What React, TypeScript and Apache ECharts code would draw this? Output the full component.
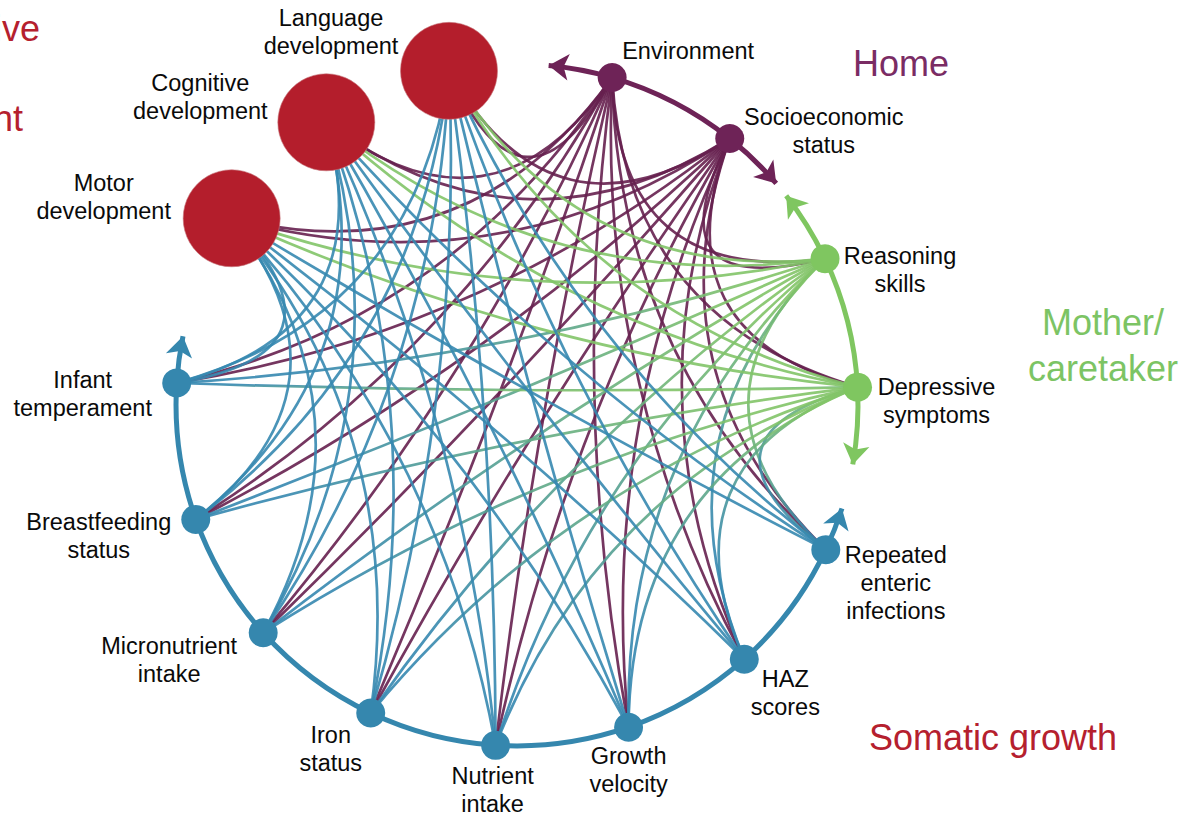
import React, { useEffect, useRef } from "react";
import * as echarts from "echarts";

// ---- data ----
const nodeNames = [
  "Environment",
  "Socioeconomic\nstatus",
  "Reasoning\nskills",
  "Depressive\nsymptoms",
  "Repeated\nenteric\ninfections",
  "HAZ\nscores",
  "Growth\nvelocity",
  "Nutrient\nintake",
  "Iron\nstatus",
  "Micronutrient\nintake",
  "Breastfeeding\nstatus",
  "Infant\ntemperament",
  "Motor\ndevelopment",
  "Cognitive\ndevelopment",
  "Language\ndevelopment",
];
// angular position of each node on the circle (degrees, counter-clockwise from east)
const nodeAngles = [73.8, 51.4, 25.4, 3.0, -25.1, -48.2, -70.9, -93.6, -115.4, -138.1, -160.4, 176.3, 146.8, 124.0, 101.5];
const nodeGroups = [
  "home", "home",
  "mother", "mother",
  "somatic", "somatic", "somatic", "somatic", "somatic", "somatic", "somatic", "somatic",
  "dev", "dev", "dev",
];
// ring arcs per group: arrow-tip angle at start, node chain, arrow-tip angle at end
const ringGroups = ["home", "mother", "somatic"];
const ringChains = [
  [0, 1],
  [2, 3],
  [4, 5, 6, 7, 8, 9, 10, 11],
];
const ringStartTips = [87.4, 41.0, -15.8];
const ringEndTips = [37.8, -13.3, 166.4];

const groupTitles = ["Home", "Mother/\ncaretaker", "Somatic growth", "Neurocognitive\n\ndevelopment"];

// ---- styles ----
const NODE_COLORS: Record<string, string> = {
  home: "#6e2357",
  mother: "#7fc660",
  somatic: "#3587ae",
  dev: "#b41e2c",
};
const EDGE_COLORS: Record<string, string> = {
  home: "#66204f",
  mother: "#82c468",
  somatic: "#3688b0",
};
const labelOffsets = [
  [76, -27], [94, -8], [75, 11], [79, 14], [70, 33], [41, 34], [0, 43], [-3, 45],
  [-40, 36], [-94, 27], [-97, 17], [-94, 11], [-128, -21], [-126, -25], [-118, -39],
];
const FONT = '"Liberation Sans", Arial, sans-serif';

const rad = (d: number) => (d * Math.PI) / 180;
const angDiff = (a1: number, a2: number) => ((((a2 - a1) % 360) + 540) % 360) - 180;

export default function App() {
  const ref = useRef<HTMLDivElement>(null);
  useEffect(() => {
    document.body.style.margin = "0";
    if (!ref.current) return;
    const chart = echarts.init(ref.current, null, { renderer: "svg" });

    const nodes: any[] = nodeNames.map((name, i) => {
      const g = nodeGroups[i];
      return {
        name,
        value: [Math.cos(rad(nodeAngles[i])), Math.sin(rad(nodeAngles[i]))],
        symbolSize: g === "dev" ? 97 : 29,
        itemStyle: {
          color: NODE_COLORS[g],
          borderColor: g === "dev" ? "rgba(200,120,125,0.6)" : "transparent",
          borderWidth: g === "dev" ? 1 : 0,
        },
        label: {
          show: true,
          position: "inside",
          offset: labelOffsets[i],
          align: "center",
          verticalAlign: "middle",
          fontSize: 23.5,
          lineHeight: 28,
          color: "#0a0a0a",
          fontFamily: FONT,
        },
      };
    });
    const allAngles = nodeAngles.slice();

    // tip nodes (invisible) for the ring arrows
    const addTip = (angle: number) => {
      nodes.push({
        name: "tip" + nodes.length,
        value: [Math.cos(rad(angle)), Math.sin(rad(angle))],
        symbolSize: 0,
        itemStyle: { opacity: 0 },
        label: { show: false },
      });
      allAngles.push(angle);
      return nodes.length - 1;
    };

    const links: any[] = [];
    const K = 0.5;
    for (let i = 0; i < nodeNames.length; i++) {
      for (let j = i + 1; j < nodeNames.length; j++) {
        const gi = nodeGroups[i];
        const gj = nodeGroups[j];
        if (gi === gj) continue;
        let s = i, t = j;
        let color: any;
        if (gi === "dev" || gj === "dev") {
          const other = gi === "dev" ? gj : gi;
          color = EDGE_COLORS[other];
        } else if (gi === "home" || gj === "home") {
          color = EDGE_COLORS.home;
        } else {
          // mother - somatic : gradient
          s = gi === "mother" ? i : j;
          t = s === i ? j : i;
          const ps = [Math.cos(rad(nodeAngles[s])), -Math.sin(rad(nodeAngles[s]))];
          const pt = [Math.cos(rad(nodeAngles[t])), -Math.sin(rad(nodeAngles[t]))];
          const minx = Math.min(ps[0], pt[0]), maxx = Math.max(ps[0], pt[0]);
          const miny = Math.min(ps[1], pt[1]), maxy = Math.max(ps[1], pt[1]);
          const fx = (v: number) => (maxx - minx < 1e-3 ? 0.5 : (v - minx) / (maxx - minx));
          const fy = (v: number) => (maxy - miny < 1e-3 ? 0.5 : (v - miny) / (maxy - miny));
          color = new echarts.graphic.LinearGradient(fx(ps[0]), fy(ps[1]), fx(pt[0]), fy(pt[1]), [
            { offset: 0.15, color: EDGE_COLORS.mother },
            { offset: 0.85, color: EDGE_COLORS.somatic },
          ]);
        }
        const d = angDiff(nodeAngles[s], nodeAngles[t]);
        const ad = Math.abs(d);
        const curv = (Math.sign(Math.sin(rad(d))) * K) / (2 * Math.tan(rad(ad / 2)));
        links.push({
          source: s,
          target: t,
          lineStyle: { color, width: 2.7, opacity: 0.9, curveness: curv },
        });
      }
    }

    // ring arcs
    ringGroups.forEach((g, gi) => {
      const chain = ringChains[gi].slice();
      const startTip = addTip(ringStartTips[gi]);
      const endTip = addTip(ringEndTips[gi]);
      const seq: Array<[number, number, boolean]> = [];
      seq.push([chain[0], startTip, true]);
      for (let k = 0; k < chain.length - 1; k++) seq.push([chain[k], chain[k + 1], false]);
      seq.push([chain[chain.length - 1], endTip, true]);
      seq.forEach(([s, t, arrow]) => {
        const d = angDiff(allAngles[s], allAngles[t]);
        const curv = -Math.sign(Math.sin(rad(d))) * Math.tan(rad(Math.abs(d) / 4));
        links.push({
          source: s,
          target: t,
          symbol: ["none", arrow ? "arrow" : "none"],
          symbolSize: arrow ? [16, 20] : 0,
          lineStyle: { color: NODE_COLORS[g], width: 5, opacity: 1, curveness: curv },
        });
      });
    });

    const titleStyle = (text: string, x: number, y: number, color: string, lh: number) => ({
      type: "text",
      style: {
        text,
        x,
        y,
        fill: color,
        fontSize: 36,
        fontFamily: FONT,
        lineHeight: lh,
        align: "center",
        verticalAlign: "middle",
        textAlign: "center",
        textVerticalAlign: "middle",
      },
    });

    chart.setOption({
      animation: false,
      backgroundColor: "#ffffff",
      grid: { left: 176, top: 64, width: 682, height: 682 },
      xAxis: { type: "value", min: -1, max: 1, show: false },
      yAxis: { type: "value", min: -1, max: 1, show: false },
      graphic: [
        titleStyle(groupTitles[0], 901, 63, "#7a2c64", 42),
        titleStyle(groupTitles[1], 1103, 345, "#7cc464", 46),
        titleStyle(groupTitles[2], 993, 737, "#b5202e", 42),
        titleStyle(groupTitles[3], -80, 73, "#b5202e", 45),
      ],
      series: [
        {
          type: "graph",
          coordinateSystem: "cartesian2d",
          layout: "none",
          silent: true,
          edgeSymbol: ["none", "none"],
          data: nodes,
          links,
          emphasis: { disabled: true },
        },
      ],
    });
    return () => chart.dispose();
  }, []);
  return <div ref={ref} style={{ width: 1187, height: 815 }} />;
}
